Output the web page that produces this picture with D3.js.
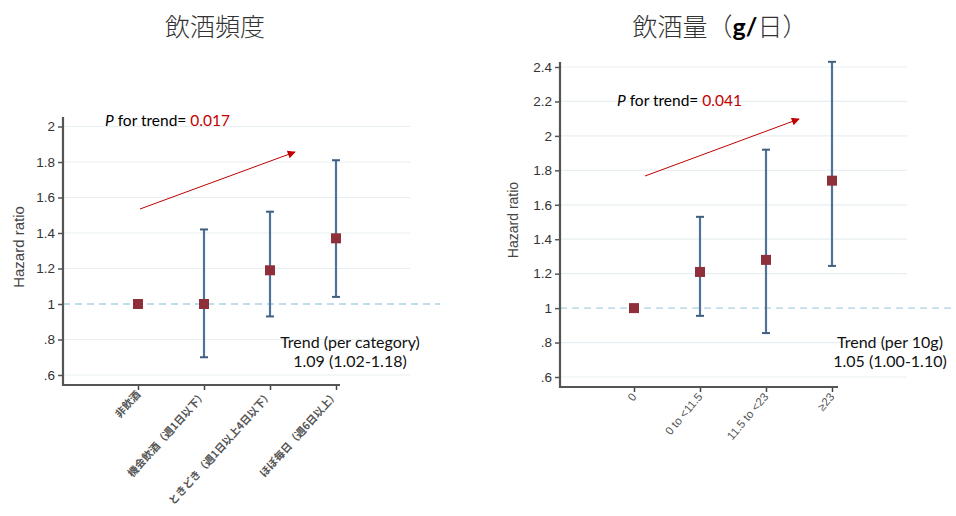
<!DOCTYPE html>
<html><head><meta charset="utf-8">
<script src="https://cdn.jsdelivr.net/npm/d3@7"></script>
<style>body{margin:0;background:#fff}svg{display:block}</style>
</head><body>
<svg id="c" width="956" height="516"></svg>
<script>
// ---- data ----
const freqCategories = ["非飲酒", "機会飲酒（週1日以下）", "ときどき（週1日以上4日以下）", "ほぼ毎日（週6日以上）"];
const freqHR   = [1.00, 1.00, 1.19, 1.37];
const freqLow  = [null, 0.70, 0.93, 1.04];
const freqHigh = [null, 1.42, 1.52, 1.81];
const freqTicks = [0.6, 0.8, 1, 1.2, 1.4, 1.6, 1.8, 2];

const amtCategories = ["0", "0 to <11.5", "11.5 to <23", "≥23"];
const amtHR   = [1.00, 1.21, 1.28, 1.74];
const amtLow  = [null, 0.955, 0.855, 1.245];
const amtHigh = [null, 1.53, 1.92, 2.43];
const amtTicks = [0.6, 0.8, 1, 1.2, 1.4, 1.6, 1.8, 2, 2.2, 2.4];

const titles = ["飲酒頻度", "飲酒量（g/日）"];
const pTrend = ["0.017", "0.041"];
const trendLabel = ["Trend (per category)", "Trend (per 10g)"];
const trendValue = ["1.09 (1.02-1.18)", "1.05 (1.00-1.10)"];

const svg = d3.select("#c");
const defs = svg.append("defs");
defs.append("marker").attr("id","ah").attr("viewBox","0 0 10 10").attr("refX",9).attr("refY",5)
  .attr("markerWidth",10).attr("markerHeight",8).attr("markerUnits","userSpaceOnUse").attr("orient","auto")
  .append("path").attr("d","M0,0L10,5L0,10z").attr("fill","#c00000");

const fmt = v => { let s = d3.format("")(+v.toFixed(1)); return s.startsWith("0.") ? s.slice(1) : s; };
const tickFont = "'Liberation Sans Narrow','Liberation Sans',Arial,sans-serif";
const annFont = "Lato,'Open Sans',sans-serif";

const panels = [
  {cats: freqCategories, hr: freqHR, lo: freqLow, hi: freqHigh, ticks: freqTicks,
   ax: 63, yTop: 117, yBot: 385, yDom: [0.6, 2], yRng: [375, 126.5], xRng: [138, 336], xEnd: 340,
   gridEnd: 410, dashEnd: 440, titleX: 215, ylabX: 18, ylabY: 247, ylabSize: 15, rot: -48,
   arrow: [[140, 209], [295, 152]], pX: 105, pY: 126, trendX: 350, trendY: 348, labSize: 10.5},
  {cats: amtCategories, hr: amtHR, lo: amtLow, hi: amtHigh, ticks: amtTicks,
   ax: 560, yTop: 62, yBot: 387, yDom: [0.6, 2.4], yRng: [377, 67], xRng: [634, 832], xEnd: 838,
   gridEnd: 907, dashEnd: 956, titleX: 720, ylabX: 513, ylabY: 220, ylabSize: 14, rot: -50,
   arrow: [[645, 176], [799, 119]], pX: 617, pY: 106, trendX: 890, trendY: 348, labSize: 11.5}
];

panels.forEach((p, i) => {
  const g = svg.append("g");
  const y = d3.scaleLinear().domain(p.yDom).range(p.yRng);
  const x = d3.scalePoint().domain(p.cats).range(p.xRng);

  // grid lines
  g.selectAll(".grid").data(p.ticks.filter(t => t !== 1)).join("line")
    .attr("x1", p.ax).attr("x2", p.gridEnd).attr("y1", d => y(d)).attr("y2", d => y(d))
    .attr("stroke", "#e8eff2").attr("stroke-width", 1.2);
  // reference line
  g.append("line").attr("x1", p.ax).attr("x2", p.dashEnd).attr("y1", y(1)).attr("y2", y(1))
    .attr("stroke", "#a8d4e4").attr("stroke-width", 1.3).attr("stroke-dasharray", "7,5");

  // y axis
  const ya = g.append("g").attr("transform", `translate(${p.ax},0)`)
    .call(d3.axisLeft(y).tickValues(p.ticks).tickFormat(fmt).tickSize(5).tickPadding(3));
  ya.select(".domain").remove();
  ya.selectAll(".tick line").attr("stroke", "#555").attr("stroke-width", 1.5);
  ya.selectAll(".tick text").attr("fill", "#333").style("font-family", tickFont).style("font-size", "13.5px");

  // x axis
  const xa = g.append("g").attr("transform", `translate(0,${p.yBot})`)
    .call(d3.axisBottom(x).tickSize(5).tickFormat(""));
  xa.select(".domain").remove();
  xa.selectAll(".tick line").attr("stroke", "#444").attr("stroke-width", 1.5);
  g.selectAll(".xl").data(p.cats).join("text")
    .attr("transform", d => `translate(${x(d) + 3},${p.yBot + 10}) rotate(${p.rot})`)
    .attr("text-anchor", "end").attr("fill", "#555")
    .style("font-family", i === 0 ? "'Noto Sans CJK JP',sans-serif" : tickFont)
    .style("font-size", p.labSize + "px").style("font-weight", i === 0 ? "bold" : "normal")
    .text(d => d);

  // axis lines
  g.append("line").attr("x1", p.ax).attr("x2", p.ax).attr("y1", p.yTop).attr("y2", p.yBot + 1)
    .attr("stroke", "#555").attr("stroke-width", 2.2);
  g.append("line").attr("x1", p.ax - 1).attr("x2", p.xEnd).attr("y1", p.yBot).attr("y2", p.yBot)
    .attr("stroke", "#555").attr("stroke-width", 2.2);

  // y label
  g.append("text").attr("transform", `translate(${p.ylabX},${p.ylabY}) rotate(-90)`)
    .attr("text-anchor", "middle").attr("dominant-baseline", "central").attr("fill", "#444")
    .style("font-family", tickFont).style("font-size", p.ylabSize + "px").text("Hazard ratio");

  // CIs
  const ci = p.cats.map((c, k) => ({c, lo: p.lo[k], hi: p.hi[k]})).filter(d => d.lo != null);
  g.selectAll(".ci").data(ci).join("line")
    .attr("x1", d => x(d.c)).attr("x2", d => x(d.c)).attr("y1", d => y(d.lo)).attr("y2", d => y(d.hi))
    .attr("stroke", "#4f7397").attr("stroke-width", 2.2);
  ["lo", "hi"].forEach(k => {
    g.selectAll(".cap" + k).data(ci).join("line")
      .attr("x1", d => x(d.c) - 4).attr("x2", d => x(d.c) + 4).attr("y1", d => y(d[k])).attr("y2", d => y(d[k]))
      .attr("stroke", "#3f5f80").attr("stroke-width", 2);
  });
  // markers
  g.selectAll(".pt").data(p.cats.map((c, k) => ({c, v: p.hr[k]}))).join("rect")
    .attr("x", d => x(d.c) - 5).attr("y", d => y(d.v) - 5).attr("width", 10).attr("height", 10)
    .attr("fill", "#8e2f3a");

  // arrow
  g.append("line").attr("x1", p.arrow[0][0]).attr("y1", p.arrow[0][1])
    .attr("x2", p.arrow[1][0]).attr("y2", p.arrow[1][1])
    .attr("stroke", "#c00000").attr("stroke-width", 1).attr("marker-end", "url(#ah)");

  // P for trend
  const pt = g.append("text").attr("x", p.pX).attr("y", p.pY).attr("fill", "#000")
    .style("font-family", annFont).style("font-size", "15.5px");
  pt.append("tspan").style("font-style", "italic").text("P");
  pt.append("tspan").text(" for trend= ");
  pt.append("tspan").attr("fill", "#c00000").text(pTrend[i]);

  // trend text
  g.append("text").attr("x", p.trendX).attr("y", p.trendY).attr("text-anchor", "middle")
    .attr("fill", "#111").style("font-family", annFont).style("font-size", "16px").text(trendLabel[i]);
  g.append("text").attr("x", p.trendX).attr("y", p.trendY + 19).attr("text-anchor", "middle")
    .attr("fill", "#111").style("font-family", annFont).style("font-size", "16px").text(trendValue[i]);

  // title
  const t = g.append("text").attr("x", p.titleX).attr("y", 36).attr("text-anchor", "middle")
    .attr("fill", "#333").style("font-family", "'Noto Sans CJK JP',sans-serif").style("font-size", "25px")
    .style("font-weight", "300");
  if (i === 0) t.text(titles[0]);
  else {
    t.append("tspan").text("飲酒量（");
    t.append("tspan").attr("fill", "#000").style("font-weight", "bold").style("font-family", annFont).text("g/");
    t.append("tspan").text("日）");
  }
});
</script>
</body></html>
